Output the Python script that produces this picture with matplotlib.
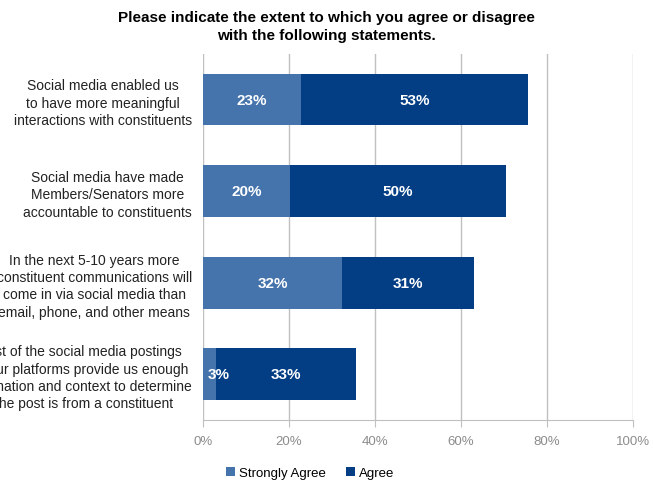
import matplotlib.pyplot as plt
import numpy as np

plt.rcParams['font.family'] = ['Liberation Sans', 'DejaVu Sans']

statements = [
    "Social media enabled us\nto have more meaningful\ninteractions with constituents",
    "Social media have made\nMembers/Senators more\naccountable to constituents",
    "In the next 5-10 years more\nconstituent communications will\ncome in via social media than\nemail, phone, and other means",
    "Most of the social media postings\non our platforms provide us enough\ninformation and context to determine\nif the post is from a constituent",
]
strongly_agree = [22.7, 20.2, 32.4, 2.9]
agree = [53.0, 50.3, 30.6, 32.8]

c_strong = '#4573ab'
c_agree = '#033e85'
grid_c = '#c0c0c0'

fig = plt.figure(figsize=(6.53, 4.85), dpi=100)
ax = fig.add_axes([0.311, 0.132, 0.658, 0.755])

y = np.arange(len(statements))
h = 0.565
ax.barh(y, strongly_agree, height=h, color=c_strong, label='Strongly Agree', zorder=3)
ax.barh(y, agree, left=strongly_agree, height=h, color=c_agree, label='Agree', zorder=3)

for i in range(len(statements)):
    s, a = strongly_agree[i], agree[i]
    ax.text(max(s / 2, 3.6), i, '%.0f%%' % s, color='white', fontsize=11,
            fontweight='bold', ha='center', va='center', zorder=4)
    ax.text(s + a / 2, i, '%.0f%%' % a, color='white', fontsize=11,
            fontweight='bold', ha='center', va='center', zorder=4)

ax.set_xlim(0, 100)
ax.set_ylim(3.5, -0.5)
ax.set_xticks(np.arange(0, 101, 20))
ax.set_xticklabels(['%d%%' % v for v in range(0, 101, 20)])
ax.set_yticks(y)
ax.set_yticklabels(statements, multialignment='center', fontsize=10,
                   linespacing=1.3, color='#222222')
ax.tick_params(axis='y', length=0, pad=8)
ax.tick_params(axis='x', colors=grid_c, labelcolor='#8c8c8c', labelsize=9.5, length=5, pad=6)
ax.grid(axis='x', color=grid_c, linewidth=1, zorder=0)
for side in ['top', 'right', 'left']:
    ax.spines[side].set_visible(False)
ax.spines['bottom'].set_color(grid_c)

fig.suptitle('Please indicate the extent to which you agree or disagree\nwith the following statements.',
             fontsize=11, fontweight='bold', x=0.5, y=0.978, linespacing=1.35)

fig.legend(loc='lower center', bbox_to_anchor=(0.475, -0.014), ncol=2, frameon=False,
           fontsize=9.5, handlelength=0.7, handleheight=0.7, handletextpad=0.3, columnspacing=1.5)

fig.savefig('out.png', dpi=100)
